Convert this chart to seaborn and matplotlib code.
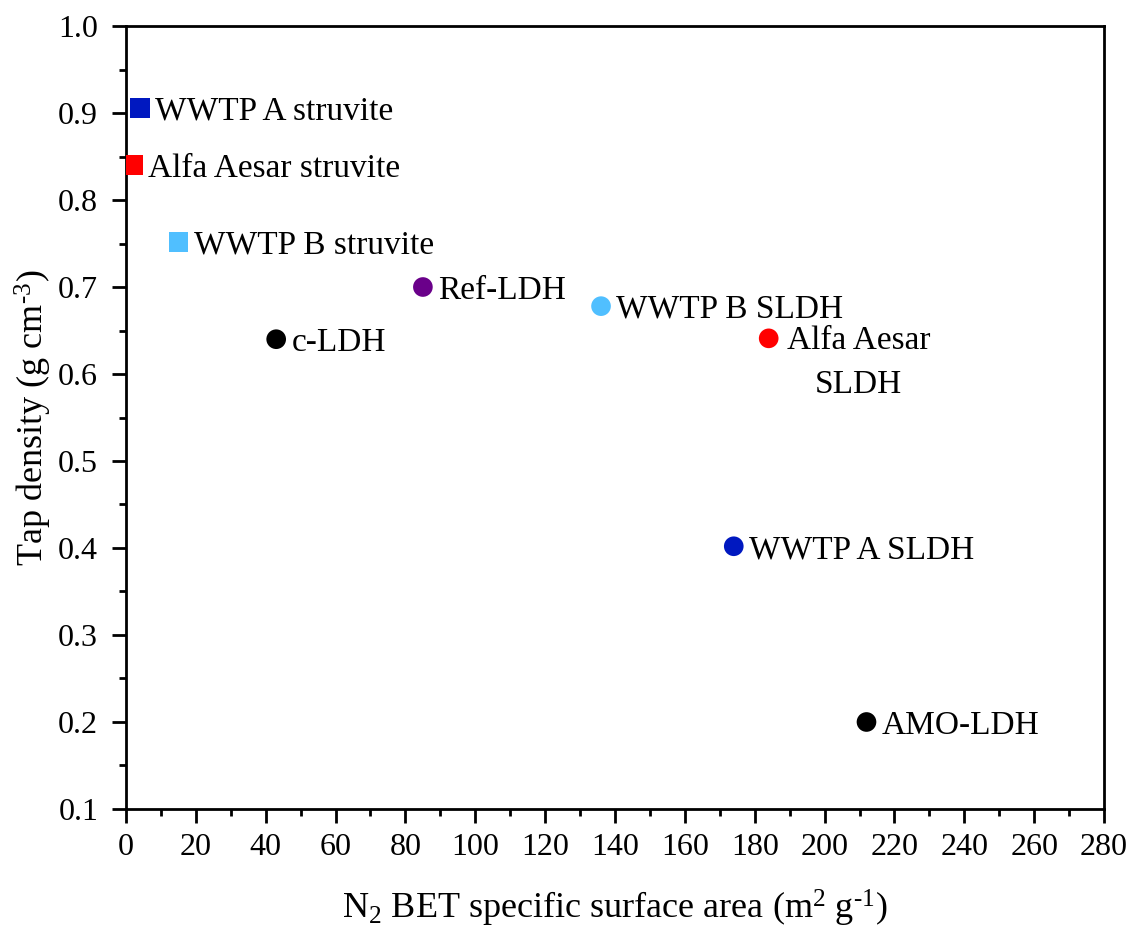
import numpy as np
import pandas as pd
import matplotlib
matplotlib.use("Agg")
import matplotlib.pyplot as plt
import seaborn as sns
from matplotlib.ticker import MultipleLocator

samples = ["WWTP A struvite", "Alfa Aesar struvite", "WWTP B struvite", "Ref-LDH",
           "c-LDH", "WWTP B SLDH", "Alfa Aesar\nSLDH", "WWTP A SLDH", "AMO-LDH"]
surface_area = [4, 2, 15, 85, 43, 136, 184, 174, 212]
tap_density = [0.906, 0.840, 0.752, 0.700, 0.640, 0.678, 0.641, 0.402, 0.200]
shape = ["struvite"] * 3 + ["LDH"] * 6
colors = ["#0018c0", "#ff0000", "#50bfff", "#6a008a", "#000000",
          "#50bfff", "#ff0000", "#0018c0", "#000000"]

df = pd.DataFrame({"x": surface_area, "y": tap_density, "sample": samples, "shape": shape})

sns.set_style("ticks")
plt.rcParams["font.family"] = ["Liberation Serif", "DejaVu Serif"]
plt.rcParams["mathtext.fontset"] = "custom"
plt.rcParams["mathtext.rm"] = "Liberation Serif"
plt.rcParams["mathtext.it"] = "Liberation Serif:italic"
plt.rcParams["mathtext.default"] = "regular"
for key in ["text.color", "axes.labelcolor", "xtick.color", "ytick.color", "axes.edgecolor"]:
    plt.rcParams[key] = "black"

fig = plt.figure(figsize=(11.3, 9.36), dpi=100)
ax = fig.add_axes([0.1115, 0.1357, 0.8655, 0.8365])

sns.scatterplot(data=df, x="x", y="y", hue="sample", style="shape",
                palette=dict(zip(samples, colors)),
                markers={"struvite": "s", "LDH": "o"},
                s=200, linewidth=0, legend=False, ax=ax, zorder=3)

for name, xv, yv in zip(samples, surface_area, tap_density):
    if "\n" in name:
        ax.annotate(name, (xv, yv), xytext=(13, 9), textcoords="offset points",
                    ha="left", va="top", fontsize=24, multialignment="center",
                    linespacing=1.55)
    else:
        ax.annotate(name, (xv, yv), xytext=(11, 0), textcoords="offset points",
                    ha="left", va="center_baseline", fontsize=24)

ax.set_xlim(0, 280)
ax.set_ylim(0.1, 1.0)
ax.xaxis.set_major_locator(MultipleLocator(20))
ax.xaxis.set_minor_locator(MultipleLocator(10))
ax.yaxis.set_major_locator(MultipleLocator(0.1))
ax.yaxis.set_minor_locator(MultipleLocator(0.05))
ax.tick_params(which="major", length=10, width=2, labelsize=23, direction="out")
ax.tick_params(which="minor", length=5, width=2, direction="out")
ax.tick_params(axis="y", which="major", pad=10)
ax.tick_params(axis="x", which="major", pad=7)
for sp in ax.spines.values():
    sp.set_linewidth(2)

ax.set_xlabel("N$_2$ BET specific surface area (m$^2$ g$^{\u2010 1}$)", fontsize=26, labelpad=19)
ax.set_ylabel("Tap density (g cm$^{\u20103}$)", fontsize=26, labelpad=3)

fig.savefig("out.png", dpi=100)
